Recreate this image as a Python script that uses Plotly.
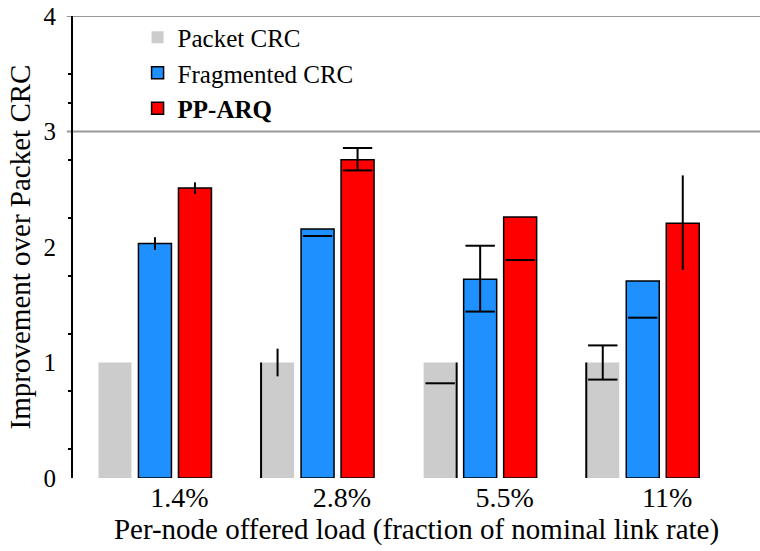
import plotly.graph_objects as go

# ---- data ----
loads = ["1.4%", "2.8%", "5.5%", "11%"]
series = ["Packet CRC", "Fragmented CRC", "PP-ARQ"]
legend_names = ["Packet CRC", "Fragmented CRC", "<b>PP-ARQ</b>"]
values = {
    "Packet CRC":     [1.0, 1.0, 1.0, 1.0],
    "Fragmented CRC": [2.03, 2.155, 1.72, 1.705],
    "PP-ARQ":         [2.51, 2.755, 2.26, 2.205],
}
# error bars as drawn in the source (centre, half-length, capped?)
err_center = {
    "Packet CRC":     [None, 1.0, 0.82, 1.0],
    "Fragmented CRC": [2.03, 2.095, 1.726, 1.388],
    "PP-ARQ":         [2.51, 2.76, 1.887, 2.21],
}
err_half = {
    "Packet CRC":     [0, 0.12, 0, 0.148],
    "Fragmented CRC": [0.055, 0, 0.285, 0],
    "PP-ARQ":         [0.05, 0.097, 0, 0.41],
}
err_caps = {
    "Packet CRC":     [False, False, True, True],
    "Fragmented CRC": [False, True, True, True],
    "PP-ARQ":         [False, True, True, False],
}
# dark edge drawn on one side of the grey bars in the source (-1 left, +1 right, 0 none)
grey_edge = [0, -1, 1, -1]
y_ticks = [0, 1, 2, 3, 4]
y_minor = [0.25, 0.75, 1.25, 1.75, 2.25, 2.75, 3.25, 3.5]

# ---- style ----
colors = {"Packet CRC": "#cccccc", "Fragmented CRC": "#1e90ff", "PP-ARQ": "#ff0000"}
outline = {"Packet CRC": 0, "Fragmented CRC": 1.5, "PP-ARQ": 1.5}
FONT = "Liberation Serif"
BARGAP = 0.262
BARGROUPGAP = 0.175
slot = (1 - BARGAP) / len(series)
bar_w = slot * (1 - BARGROUPGAP)
label_shift = 0.15

xs = list(range(len(loads)))
fig = go.Figure()

for s, name in zip(series, legend_names):
    fig.add_trace(go.Bar(
        x=xs, y=values[s], name=name,
        marker=dict(color=colors[s], line=dict(color="black", width=outline[s])),
    ))

# grey-bar edge lines
ex, ey = [], []
for gi in xs:
    if grey_edge[gi]:
        xe = gi - slot + grey_edge[gi] * bar_w / 2
        ex += [xe, xe, None]
        ey += [0, values["Packet CRC"][gi], None]
fig.add_trace(go.Scatter(x=ex, y=ey, mode="lines", showlegend=False, hoverinfo="skip",
                         line=dict(color="black", width=2)))

stem_x, stem_y, stem_h = [], [], []
cap_x, cap_y = [], []
for si, s in enumerate(series):
    off = (si - 1) * slot
    for gi in xs:
        c = err_center[s][gi]
        if c is None:
            continue
        h = err_half[s][gi]
        xp = gi + off
        if h > 0:
            stem_x.append(xp); stem_y.append(c); stem_h.append(h)
        if h == 0:
            cap_x.append(xp); cap_y.append(c)
        elif err_caps[s][gi]:
            cap_x += [xp, xp]; cap_y += [c + h, c - h]

fig.add_trace(go.Scatter(
    x=stem_x, y=stem_y, mode="markers", showlegend=False, hoverinfo="skip",
    marker=dict(size=1, opacity=0),
    error_y=dict(type="data", array=stem_h, visible=True, width=0,
                 thickness=2, color="black"),
))
fig.add_trace(go.Scatter(
    x=cap_x, y=cap_y, mode="markers", showlegend=False, hoverinfo="skip",
    marker=dict(symbol="line-ew", size=21, line=dict(width=2, color="black")),
))

for yv in (3, 4):
    fig.add_shape(type="line", xref="paper", yref="y", x0=-0.009, x1=1,
                  y0=yv, y1=yv, line=dict(color="#999999", width=2), layer="below")

fig.update_layout(
    width=760, height=551,
    margin=dict(l=73, r=0, t=16, b=73, autoexpand=False),
    paper_bgcolor="white", plot_bgcolor="white",
    barmode="group", bargap=BARGAP, bargroupgap=BARGROUPGAP,
    font=dict(family=FONT, color="black", size=24),
    showlegend=True,
    legend=dict(x=0.094, y=1.003, xanchor="left", yanchor="top",
                bgcolor="rgba(0,0,0,0)", font=dict(size=25, family=FONT),
                tracegroupgap=0, itemwidth=30),
    xaxis=dict(
        range=[-0.504, 3.721], showgrid=False, zeroline=False, showline=False,
        automargin=False,
        tickmode="array", tickvals=[x + label_shift for x in xs], ticktext=loads,
        ticks="", tickfont=dict(size=28, family=FONT),
        title=dict(text="Per-node offered load (fraction of nominal link rate)",
                   font=dict(size=29, family=FONT), standoff=4),
    ),
    yaxis=dict(
        range=[0, 4], showgrid=False, zeroline=False, automargin=False,
        showline=True, linecolor="black", linewidth=2,
        tickmode="array", tickvals=y_ticks, ticks="",
        tickfont=dict(size=25, family=FONT), ticklabelstandoff=10,
        minor=dict(tickmode="array", tickvals=y_minor, ticks="outside",
                   ticklen=3, tickwidth=2, tickcolor="black"),
        title=dict(text="Improvement over Packet CRC",
                   font=dict(size=29, family=FONT), standoff=4),
    ),
)

fig.write_html("out.html", config={"displayModeBar": False},
               post_script="document.body.style.margin='0';document.body.style.overflow='hidden';")
